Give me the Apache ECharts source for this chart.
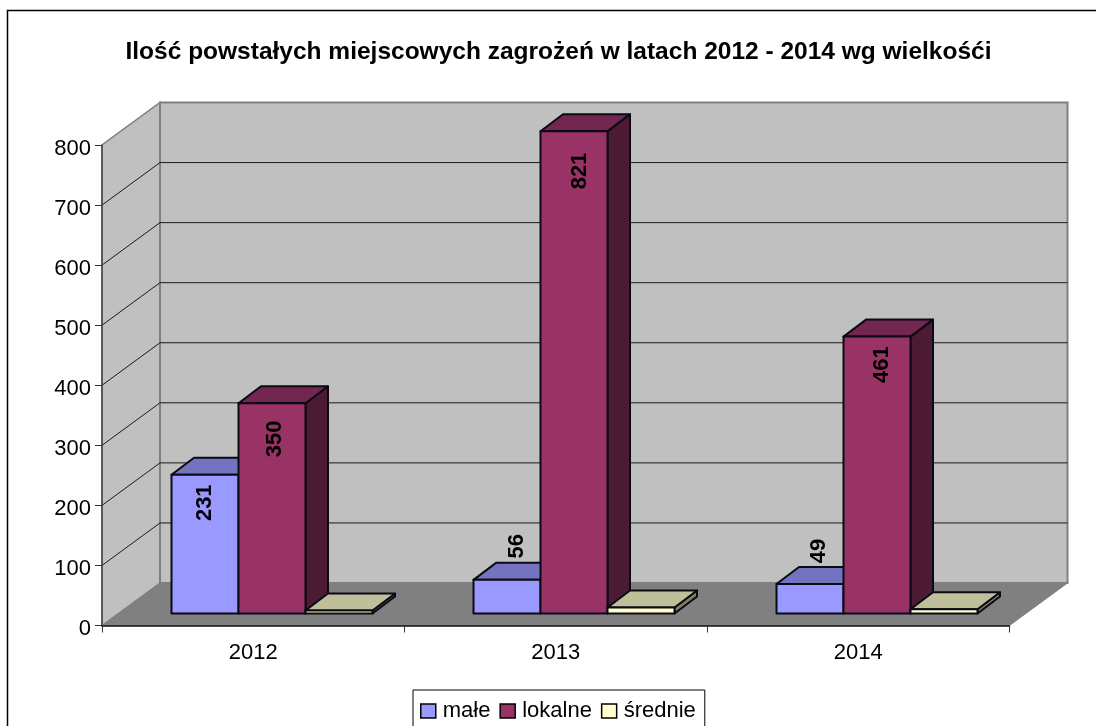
<!DOCTYPE html>
<html><head><meta charset="utf-8">
<style>html,body{margin:0;padding:0;background:#fff}#c{width:1096px;height:726px}</style>
<script src="https://cdn.jsdelivr.net/npm/echarts@6/dist/echarts.min.js"></script>
</head><body><div id="c"></div>
<script>
const categories = ['2012', '2013', '2014'];
const male = [231, 56, 49];
const lokalne = [350, 821, 461];
const srednie = [5, 10, 7];
const yTicks = [100, 200, 300, 400, 500, 600, 700, 800];

const FONT = '"Liberation Sans", Arial, sans-serif';
const chart = echarts.init(document.getElementById('c'));
const WALL = [58, -42.5];        // full depth of the 3D box
const BAR_D = [22.5, -17];       // depth of one bar
const BAR_OFF = [18, -12];       // front-face shift of bars from the front axes
const CLIP = 803;                // bars are cut at top of axis
const BAR_W = 67.1;
const NUDGE = [
  [[0, 28], [10, -33.5], [9, -33]],
  [[3, 35.5], [6, 38], [5, 28]],
  [[0, 0], [0, 0], [0, 0]]
];

function backdrop(params, api) {
  const a = api.coord([0, 0]), band = api.size([1, 0])[0];
  const x0 = a[0] - band / 2, x1 = x0 + band * categories.length, y0 = a[1];
  const yTop = api.coord([0, 800])[1];
  const [dx, dy] = WALL;
  const kids = [];
  kids.push({type:'polygon', shape:{points:[[x0,y0],[x0+dx,y0+dy],[x1+dx,y0+dy],[x1,y0]]},
    style:{fill:'#808080', stroke:'#808080', lineWidth:1}});
  kids.push({type:'polygon', shape:{points:[[x0,y0],[x0+dx,y0+dy],[x0+dx,yTop+dy],[x0,yTop]]},
    style:{fill:'#C0C0C0', stroke:'#808080', lineWidth:1.5}});
  kids.push({type:'polygon', shape:{points:[[x0+dx,y0+dy],[x0+dx,yTop+dy],[x1+dx,yTop+dy],[x1+dx,y0+dy]]},
    style:{fill:'#C0C0C0', stroke:'#808080', lineWidth:2}});
  yTicks.slice(0, -1).forEach(t => {
    const y = api.coord([0, t])[1];
    kids.push({type:'polyline', shape:{points:[[x0,y],[x0+dx,y+dy],[x1+dx,y+dy]]},
      style:{fill:null, stroke:'#1a1a1a', lineWidth:1}});
  });
  return {type:'group', children:kids};
}

function barRender(si, front, top, side, showLabel) {
  return function (params, api) {
    const ci = api.value(0), v = api.value(1);
    const c = api.coord([ci, 0]);
    const xl = Math.round(c[0] + (si - 1.5) * BAR_W + BAR_OFF[0]) + 0.5;
    const xr = Math.round(c[0] + (si - 0.5) * BAR_W + BAR_OFF[0]) + 0.5;
    const yb = c[1] + BAR_OFF[1];
    const yt = api.coord([ci, Math.min(v, CLIP)])[1] + BAR_OFF[1];
    const [dx, dy] = BAR_D;
    const st = f => ({fill:f, stroke:'#0a0a14', lineWidth:2, lineJoin:'round'});
    const kids = [
      {type:'polygon', shape:{points:[[xr,yt],[xr+dx,yt+dy],[xr+dx,yb+dy],[xr,yb]]}, style:st(side)},
      {type:'polygon', shape:{points:[[xl,yt],[xl+dx,yt+dy],[xr+dx,yt+dy],[xr,yt]]}, style:st(top)},
      {type:'rect', shape:{x:xl, y:yt, width:xr-xl, height:yb-yt}, style:st(front)}
    ];
    if (showLabel) {
      const yRef = api.coord([ci, Math.min(v, 800)])[1] + BAR_OFF[1];
      kids.push({type:'text', x:(xl+xr)/2 + NUDGE[si][ci][0], y:yRef + NUDGE[si][ci][1], rotation:Math.PI/2,
        style:{text:String(v), fontFamily:FONT, fontWeight:'bold', fontSize:22, fill:'#000', textAlign:'center', textVerticalAlign:'middle'}});
    }
    return {type:'group', children:kids};
  };
}
const toData = arr => arr.map((v, i) => [i, v]);
const barSeries = (name, si, arr, f, t, s, lab) => ({
  type:'custom', name, coordinateSystem:'cartesian2d', clip:false, silent:true,
  encode:{x:0, y:1}, itemStyle:{color:f}, data:toData(arr), renderItem:barRender(si, f, t, s, lab)
});

chart.setOption({
  animation:false, backgroundColor:'#fff',
  title:{text:'Ilość powstałych miejscowych zagrożeń w latach 2012 - 2014 wg wielkośći', left:553.5, top:35, textAlign:'center',
    textStyle:{fontFamily:FONT, fontWeight:'bold', fontSize:24.5, color:'#000'}},
  grid:{left:102, top:145, width:907.5, height:480.5},
  xAxis:{type:'category', data:categories, z:10,
    axisLine:{lineStyle:{color:'#111', width:1.5}},
    axisTick:{show:true, alignWithLabel:false, length:7, lineStyle:{color:'#333', width:1}},
    axisLabel:{fontFamily:FONT, fontSize:22, color:'#000', margin:16}, splitLine:{show:false}},
  yAxis:{type:'value', min:0, max:800, interval:100, z:10,
    axisLine:{show:true, lineStyle:{color:'#444', width:1.5}},
    axisTick:{show:true, length:7, lineStyle:{color:'#333', width:1}},
    axisLabel:{fontFamily:FONT, fontSize:22, color:'#000', margin:11, verticalAlign:'top', lineHeight:7}, splitLine:{show:false}},
  legend:{data:['małe','lokalne','średnie'], left:413, top:690, orient:'horizontal', icon:'rect',
    itemWidth:15, itemHeight:14, itemGap:9, padding:[10,9,24,7], borderColor:'#000', borderWidth:1,
    selectedMode:false, backgroundColor:'#fff',
    itemStyle:{borderColor:'#000', borderWidth:1.5},
    textStyle:{fontFamily:FONT, fontSize:22, color:'#000', padding:[0,0,0,2]}},
  graphic:[{type:'polyline', silent:true, shape:{points:[[7.5,730],[7.5,10.5],[1100,10.5]]}, style:{fill:null, stroke:'#000', lineWidth:1.5}}],
  series:[
    {type:'custom', name:'tlo', coordinateSystem:'cartesian2d', clip:false, silent:true, encode:{x:0,y:1}, data:[[0,0]], renderItem:backdrop},
    barSeries('małe', 0, male, '#9999FF', '#7373BF', '#4D4D80', true),
    barSeries('lokalne', 1, lokalne, '#993366', '#732650', '#4D1A33', true),
    barSeries('średnie', 2, srednie, '#FFFFCC', '#BFBF99', '#808066', false)
  ]
});
</script></body></html>
